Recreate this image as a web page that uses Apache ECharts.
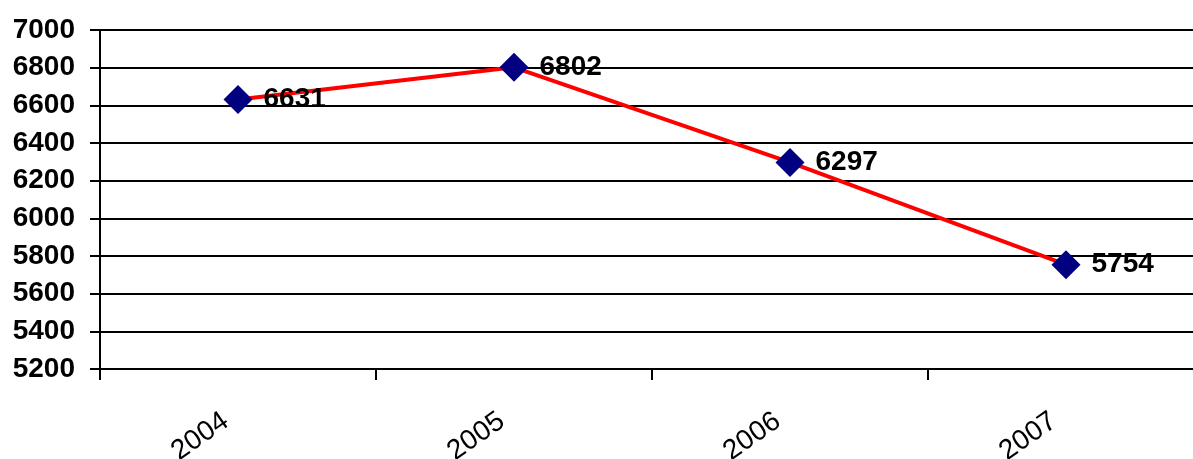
<!DOCTYPE html>
<html>
<head>
<meta charset="utf-8">
<script src="https://cdn.jsdelivr.net/npm/echarts@6/dist/echarts.min.js"></script>
<style>
html,body{margin:0;padding:0;background:#fff;}
#main{width:1193px;height:459px;}
</style>
</head>
<body>
<div id="main"></div>
<script>
const categories = ['2004', '2005', '2006', '2007'];
const values = [6631, 6802, 6297, 5754];
const yTicks = [5200, 5400, 5600, 5800, 6000, 6200, 6400, 6600, 6800, 7000];

const chart = echarts.init(document.getElementById('main'), null, {renderer: 'canvas'});
chart.setOption({
  animation: false,
  backgroundColor: '#ffffff',
  grid: {left: 100, top: 30, width: 1104, height: 339, containLabel: false, outerBoundsMode: 'none'},
  xAxis: {
    type: 'category',
    data: categories,
    boundaryGap: true,
    axisLine: {lineStyle: {color: '#000', width: 2}},
    axisTick: {show: true, length: 11, lineStyle: {color: '#000', width: 2}},
    axisLabel: {
      rotate: 35, margin: 41, color: '#000', padding: [0, 15, 0, 0],
      fontFamily: 'Liberation Sans, Arial, sans-serif', fontSize: 28
    },
    splitLine: {show: false}
  },
  yAxis: {
    type: 'value',
    min: yTicks[0], max: yTicks[yTicks.length - 1], interval: 200,
    axisLine: {show: true, lineStyle: {color: '#000', width: 2}},
    axisTick: {show: true, length: 10, lineStyle: {color: '#000', width: 2}},
    axisLabel: {
      margin: 25, color: '#000', fontWeight: 'bold',
      formatter: function (v) { return String(v); },
      fontFamily: 'Liberation Sans, Arial, sans-serif', fontSize: 28
    },
    splitLine: {show: true, lineStyle: {color: '#000', width: 2}}
  },
  series: [{
    type: 'line',
    data: values,
    symbol: 'diamond',
    symbolSize: 29,
    lineStyle: {color: '#ff0000', width: 4},
    itemStyle: {color: '#000080'},
    label: {
      show: true, position: 'right', distance: 11, color: '#000',
      fontWeight: 'bold', fontFamily: 'Liberation Sans, Arial, sans-serif', fontSize: 28
    }
  }]
});
</script>
</body>
</html>
